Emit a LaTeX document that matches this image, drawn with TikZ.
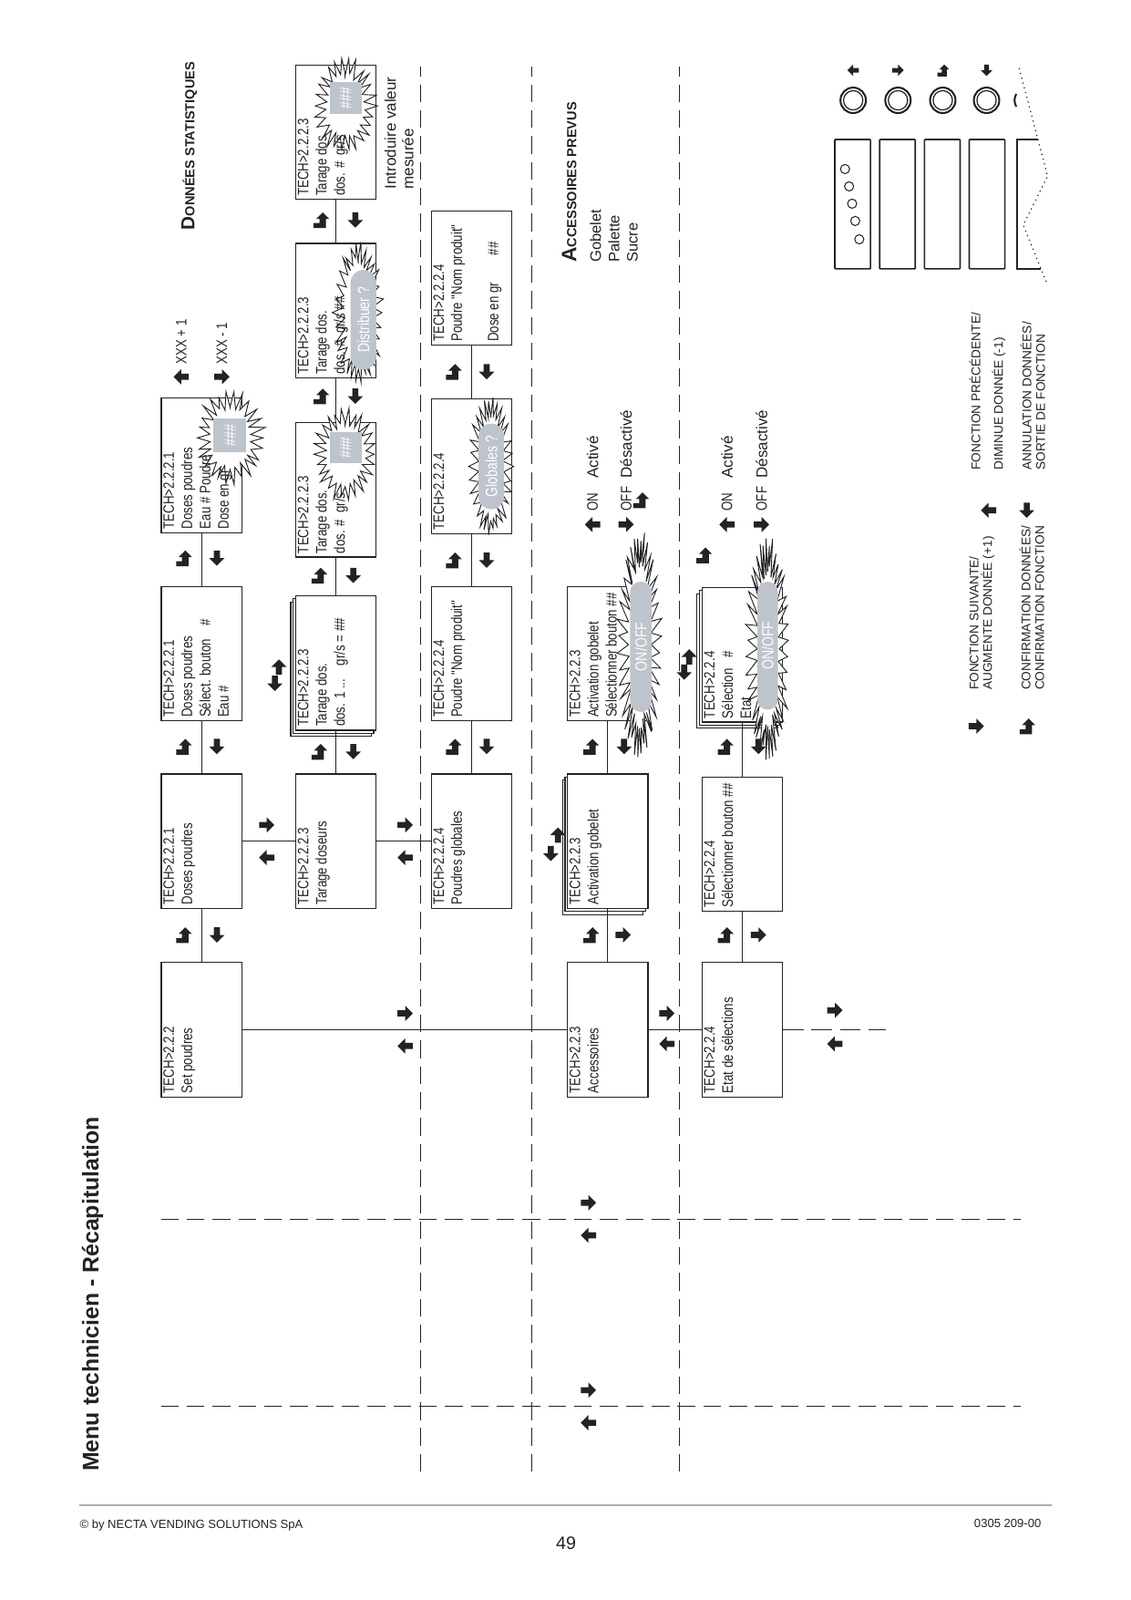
\documentclass[tikz,border=0pt]{standalone}
\usepackage{fontspec}
\setmainfont{Liberation Sans}
\newfontfamily\condfont[FakeStretch=0.8]{Liberation Sans}
\usetikzlibrary{calc}

\pgfdeclarelayer{bursts}
\pgfdeclarelayer{labels}
\pgfsetlayers{main,bursts,labels}

\definecolor{ink}{RGB}{35,35,35}
\definecolor{pillgray}{RGB}{190,196,203}

\tikzset{
  menubox/.style={draw=ink, line width=0.55pt, fill=white, minimum width=24.97mm, minimum height=14.95mm, inner sep=0pt},
  menutext/.style={anchor=north west, align=left, inner xsep=2pt, inner ysep=1.2pt, text=ink, font=\condfont\fontsize{8}{9.6}\selectfont},
  navtext/.style={anchor=west, inner sep=0pt, text=ink, font=\condfont\fontsize{8}{9.6}\selectfont},
  bodytext/.style={anchor=west, inner sep=0pt, align=left, text=ink, font=\fontsize{8.2}{9.2}\selectfont},
  legendtext/.style={anchor=west, inner sep=0pt, align=left, text=ink, font=\fontsize{6.6}{7.2}\selectfont},
  link/.style={draw=ink, line width=0.45pt},
  zone/.style={draw=ink, line width=0.55pt, dash pattern=on 3.3mm off 1.5mm},
  pill/.style={fill=pillgray, inner sep=0pt, text=white, font=\condfont\fontsize{8.5}{10}\selectfont},
  karrow/.pic={\fill[ink] (0,7.5) -- (7.5,0) -- (3,0) -- (3,-7.5) -- (-3,-7.5) -- (-3,0) -- (-7.5,0) -- cycle;},
  kenter/.pic={\fill[ink] (7.5,-2) -- (1,4.5) -- (1,1.2) -- (-3,1.2) -- (-3,7) -- (-8,7) -- (-8,-5.2) -- (1,-5.2) -- (1,-8.5) -- cycle;}
}

% key icons
\newcommand{\kup}[1]{\begin{pgfonlayer}{labels}\pic at (#1) {karrow};\end{pgfonlayer}}
\newcommand{\kdn}[1]{\begin{pgfonlayer}{labels}\pic[rotate=180] at (#1) {karrow};\end{pgfonlayer}}
\newcommand{\kesc}[1]{\begin{pgfonlayer}{labels}\pic[rotate=90] at (#1) {karrow};\end{pgfonlayer}}
\newcommand{\kfwd}[1]{\begin{pgfonlayer}{labels}\pic[rotate=-90] at (#1) {karrow};\end{pgfonlayer}}
\newcommand{\kok}[1]{\begin{pgfonlayer}{labels}\pic at (#1) {kenter};\end{pgfonlayer}}

% display screens
\newcommand{\menuscreen}[3]{%
  \node[menubox] (#1) at (#2) {};
  \begin{pgfonlayer}{labels}\node[menutext] (#1t) at (#1.north west) {#3};\end{pgfonlayer}}
\newcommand{\menustack}[3]{%
  \node[menubox] (#1b) at ($(#2)+(-6,5)$) {};
  \node[menubox] (#1m) at ($(#2)+(-3,2.5)$) {};
  \menuscreen{#1}{#2}{#3}}

% flashing burst: cx, cy, rx, spike x, ry, spike y, samples
\newcommand{\burst}[7]{%
  \begin{pgfonlayer}{bursts}
  \filldraw[fill=white, draw=ink, line width=0.45pt, shift={(#1,#2)}]
    plot[domain=0:360, samples=#7, variable=\t]
    ({(#3+#4*mod(round(\t/360*(#7-1)),2))*(0.92+0.16*rnd)*cos(\t)},
     {(#5+#6*mod(round(\t/360*(#7-1)),2))*(0.92+0.16*rnd)*sin(\t)}) -- cycle;
  \end{pgfonlayer}}

\begin{document}
\begin{tikzpicture}[x=0.18919mm, y=0.18919mm]
\useasboundingbox (0,0) rectangle (1110,1571);
\fill[white] (0,0) rectangle (1110,1571);

% landscape page, turned a quarter turn
\begin{scope}[shift={(1110,0)}, rotate=90, transform shape]

\node[font=\bfseries\fontsize{12}{14}\selectfont, anchor=west, inner sep=0pt, text=ink] (title) at (126,1019) {Menu technicien - Récapitulation};

% zone separators
\draw[zone] (126,697) -- (1506,697);
\draw[zone] (126,588) -- (1506,588);
\draw[zone] (126,443) -- (1506,443);
\draw[zone] (374,952) -- (374,107);
\draw[zone] (190,952) -- (190,107);

% set poudres
\menuscreen{A1}{560,912}{TECH>2.2.2\\Set poudres}
\menuscreen{A2}{745,912}{TECH>2.2.2.1\\Doses poudres}
\menuscreen{A3}{929,912}{TECH>2.2.2.1\\Doses poudres\\Sélect. bouton\hspace{2.5mm}\#\\Eau \#}
\menuscreen{A4}{1114,912}{TECH>2.2.2.1\\Doses poudres\\Eau \# Poudre\\Dose en gr}

\menuscreen{B1}{745,780}{TECH>2.2.2.3\\Tarage doseurs}
\menustack{B2}{920,780}{TECH>2.2.2.3\\Tarage dos.\\dos. 1 ...\hspace{2.5mm}gr/s = \#\#}
\menuscreen{B3}{1090,780}{TECH>2.2.2.3\\Tarage dos.\\dos. \#\hspace{1.2mm}gr/s}
\menuscreen{B4}{1266,780}{TECH>2.2.2.3\\Tarage dos.\\dos. \#\hspace{1.2mm}gr/s \#\#}
\menuscreen{B5}{1441,780}{TECH>2.2.2.3\\Tarage dos.\\dos. \#\hspace{1.2mm}gr/s}

\menuscreen{C1}{745,647}{TECH>2.2.2.4\\Poudres globales}
\menuscreen{C2}{929,647}{TECH>2.2.2.4\\Poudre "Nom produit"}
\menuscreen{C3}{1113,647}{TECH>2.2.2.4}
\menuscreen{C4}{1298,647}{TECH>2.2.2.4\\Poudre "Nom produit"\\~\\Dose en gr\hspace{5mm}\#\#}

% accessoires
\menuscreen{D1}{560,513}{TECH>2.2.3\\Accessoires}
\menustack{D2}{745,513}{TECH>2.2.3\\Activation gobelet}
\menuscreen{D3}{929,513}{TECH>2.2.3\\Activation gobelet\\Sélectionner bouton \#\#}

% etat de selections
\menuscreen{E1}{560,381}{TECH>2.2.4\\Etat de sélections}
\menuscreen{E2}{742,381}{TECH>2.2.4\\Sélectionner bouton \#\#}
\menustack{E3}{928,381}{TECH>2.2.4\\Sélection\hspace{2mm}\#\\Etat}

% connectors
\draw[link] (A1) -- (A2) (A2) -- (A3) (A3) -- (A4);
\draw[link] (B1) -- (B2) (B2) -- (B3) (B3) -- (B4) (B4) -- (B5);
\draw[link] (C1) -- (C2) (C2) -- (C3) (C3) -- (C4);
\draw[link] (D1) -- (D2) (D2) -- (D3);
\draw[link] (E1) -- (E2) (E2) -- (E3);
\draw[link] (A2) -- (B1) (B1) -- (C1);
\draw[link] (A1) -- (D1) (D1) -- (E1);
\coordinate (Eout) at (560,240);
\draw[link, dash pattern=on 3.8mm off 1.5mm] (E1) -- (Eout);

% bursts, values and questions
\burst{1141}{884}{30}{14}{21}{12}{53}
\burst{1125}{771}{30}{14}{19}{11}{53}
\burst{1467}{771}{31}{14}{19}{11}{53}
\burst{1264}{758}{52}{15}{14}{10}{61}
\burst{1113}{628}{50}{16}{12}{9}{61}
\burst{938}{482}{78}{28}{11}{10}{81}
\burst{934}{356}{78}{27}{11}{10}{81}

\begin{pgfonlayer}{labels}
\node[pill, minimum width=6.2mm, minimum height=6.1mm] (A4v) at (1143.5,884) {\#\#\#};
\node[pill, minimum width=5.9mm, minimum height=5.9mm] (B3v) at (1131.5,770.5) {\#\#\#};
\node[pill, minimum width=5.9mm, minimum height=5.9mm] (B5v) at (1474.5,770.5) {\#\#\#};
\node[pill, rounded corners=2.4mm, minimum width=18.5mm, minimum height=4.8mm] (B4q) at (1257,753) {Distribuer ?};
\node[pill, rounded corners=2.3mm, minimum width=15.9mm, minimum height=4.7mm] (C3q) at (1113,627.5) {Globales ?};
\node[pill, rounded corners=2mm, minimum width=24.2mm, minimum height=4mm] (D3q) at (936,480.5) {ON/OFF};
\node[pill, rounded corners=1.9mm, minimum width=23.8mm, minimum height=3.8mm] (E3q) at (937,356) {ON/OFF};
\end{pgfonlayer}

% keys along the chains
\kok{653,930} \kesc{653,897} \kok{838,930} \kesc{838,897} \kok{1023,930} \kesc{1023,897}
\kok{833,797} \kesc{833,763} \kok{1006,797} \kesc{1006,763}
\kok{1182,795} \kesc{1182,761} \kok{1355,795} \kesc{1355,761}
\kok{838,665} \kesc{838,632} \kok{1021,665} \kesc{1021,632} \kok{1206,665} \kesc{1206,632}
\kok{653,530} \kdn{653,498} \kok{838,530} \kesc{838,497}
\kok{653,398} \kdn{653,365} \kok{838,398} \kesc{838,365}
\kok{1080,481} \kok{1026,419}

% keys between menus
\kdn{761,848} \kup{729,848} \kdn{761,712} \kup{729,712}
\kdn{576,712} \kup{544,712} \kdn{576,455} \kup{546,455}
\kdn{579,290} \kup{546,290}
\kdn{390,532} \kup{358,532} \kdn{206,532} \kup{174,532}

% keys for stacked screens
\kesc{900,840} \kfwd{916,836}
\kesc{733,569} \kfwd{751,562}
\kesc{911,438} \kfwd{926,433}

% data changes
\kup{1201,932} \node[navtext] (inc) at (1213,932) {XXX + 1};
\kdn{1201,892} \node[navtext] (dec) at (1213,892) {XXX - 1};

\kup{1056,528} \node[navtext] (onD) at (1069,528) {ON};
\node[bodytext] (onDt) at (1101,528) {Activé};
\kdn{1056,495} \node[navtext] (offD) at (1069,495) {OFF};
\node[bodytext] (offDt) at (1101,495) {Désactivé};
\kup{1056,396} \node[navtext] (onE) at (1069,396) {ON};
\node[bodytext] (onEt) at (1101,396) {Activé};
\kdn{1056,362} \node[navtext] (offE) at (1069,362) {OFF};
\node[bodytext] (offEt) at (1101,362) {Désactivé};

% headings and notes
\node[anchor=west, inner sep=0pt, text=ink, font=\bfseries] (stat) at (1345,924)
  {\fontsize{10}{12}\selectfont D\fontsize{7}{9}\selectfont ONNÉES STATISTIQUES};
\node[bodytext] (measure) at (1385,718) {Introduire valeur\\mesurée};
\node[anchor=west, inner sep=0pt, text=ink, font=\bfseries] (acc) at (1313,551)
  {\fontsize{11}{13}\selectfont A\fontsize{7}{9}\selectfont CCESSOIRES PREVUS};
\node[bodytext, font=\fontsize{8}{9.7}\selectfont] (acclist) at (1313,507) {Gobelet\\Palette\\Sucre};

% control panel
\foreach \y in {272,228,184,141} {
  \draw[ink, line width=1pt] (1472.5,\y) circle (12.5);
  \draw[ink, line width=0.6pt] (1472.5,\y) circle (9.5);
}
\draw[ink, line width=1pt] (1472.5,101) ++(60:12.5) arc (60:120:12.5);
\foreach \y in {255,211,167,123} \draw[ink, line width=0.8pt, rounded corners=0.4pt] (1307,\y) rectangle ++(127,35);
\draw[ink, line width=0.8pt] (1434,90.5) -- (1434,111) -- (1307,111) -- (1307,87.5);
\foreach \x/\y in {1405/280, 1388/276, 1371/273, 1354/270, 1336/266} \draw[ink, line width=0.5pt] (\x,\y) circle (4.5);
\draw[ink, dotted, line width=0.6pt] (1504,109) -- (1398,81) -- (1350,105) -- (1291,81);
\begin{pgfonlayer}{labels}
\pic[scale=0.75] at (1502,272) {karrow};
\pic[scale=0.75, rotate=180] at (1502,228) {karrow};
\pic[scale=0.75] at (1502,184) {kenter};
\pic[scale=0.75, rotate=90] at (1502,141) {karrow};
\end{pgfonlayer}

% legend
\kdn{858,151} \node[legendtext] (lgnext) at (893,145.5) {FONCTION SUIVANTE/\\AUGMENTE DONNÉE (+1)};
\kok{858,101.5} \node[legendtext] (lgok) at (893,96.5) {CONFIRMATION DONNÉES/\\CONFIRMATION FONCTION};
\kup{1070,139} \node[legendtext] (lgprev) at (1109,152.5) {FONCTION PRÉCÉDENTE/};
\node[legendtext] (lgminus) at (1109,129) {DIMINUE DONNÉE (-1)};
\kesc{1070,101.5} \node[legendtext] (lgesc) at (1109,95.5) {ANNULATION DONNÉES/\\SORTIE DE FONCTION};

\end{scope}

% footer
\draw[gray!65, line width=1.3pt] (78,93) -- (1033,93);
\node[anchor=west, inner sep=0pt, text=ink, font=\fontsize{6.3}{7}\selectfont] (copyr) at (78,73) {© by NECTA VENDING SOLUTIONS SpA};
\node[anchor=east, inner sep=0pt, text=ink, font=\fontsize{6.3}{7}\selectfont] (docno) at (1023,75) {0305 209-00};
\node[inner sep=0pt, text=ink, font=\fontsize{9.5}{11}\selectfont] (pageno) at (556,56) {49};
\end{tikzpicture}
\end{document}
